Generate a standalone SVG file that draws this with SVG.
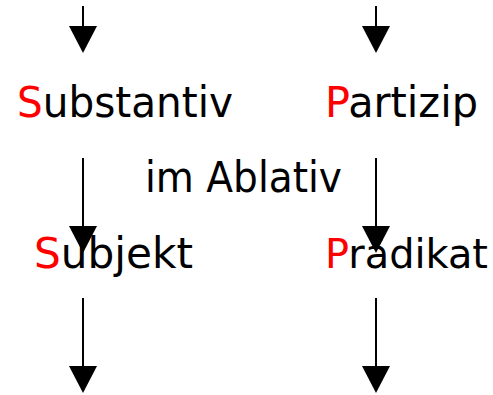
<svg xmlns="http://www.w3.org/2000/svg" width="493" height="395" viewBox="0 0 493 395">
<style>
.t{font-family:"Comic Sans MS","DejaVu Sans",sans-serif;font-size:42px;fill:#000}
.r{fill:#ff0000}
.ln{stroke:#000;stroke-width:2;fill:none}
.hd{fill:#000}
</style>
<rect width="493" height="395" fill="#fff"/>
<g id="substantiv"><text class="t" x="17" y="117" textLength="216" lengthAdjust="spacingAndGlyphs"><tspan class="r">S</tspan>ubstantiv</text></g>
<g id="partizip"><text class="t" x="325" y="117" textLength="153" lengthAdjust="spacingAndGlyphs"><tspan class="r">P</tspan>artizip</text></g>
<g id="ablativ"><text class="t" x="145" y="192" textLength="197" lengthAdjust="spacingAndGlyphs">im Ablativ</text></g>
<g id="subjekt"><text class="t" x="34" y="268" textLength="159" lengthAdjust="spacingAndGlyphs"><tspan class="r">S</tspan>ubjekt</text></g>
<g id="praedikat"><text class="t" x="325" y="268" style="font-size:40px" textLength="163" lengthAdjust="spacingAndGlyphs"><tspan class="r">P</tspan>rädikat</text></g>
<g id="connectors">
<line class="ln" x1="83" y1="6" x2="83" y2="30"/>
<polygon class="hd" points="69,26 97,26 83,53"/>
<line class="ln" x1="376" y1="6" x2="376" y2="30"/>
<polygon class="hd" points="362,26 390,26 376,53"/>
<line class="ln" x1="83" y1="158" x2="83" y2="230"/>
<polygon class="hd" points="69,226 97,226 83,253"/>
<line class="ln" x1="376" y1="158" x2="376" y2="230"/>
<polygon class="hd" points="362,226 390,226 376,253"/>
<line class="ln" x1="83" y1="298" x2="83" y2="370"/>
<polygon class="hd" points="69,366 97,366 83,393"/>
<line class="ln" x1="376" y1="298" x2="376" y2="370"/>
<polygon class="hd" points="362,366 390,366 376,393"/>
</g>
</svg>
